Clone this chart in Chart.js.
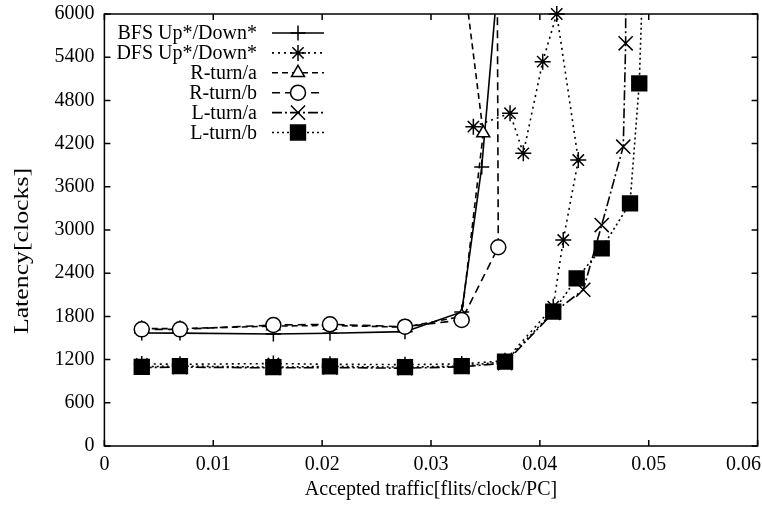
<!DOCTYPE html>
<html>
<head>
<meta charset="utf-8">
<script src="https://cdn.jsdelivr.net/npm/chart.js@4/dist/chart.umd.min.js"></script>
<style>
  body { margin: 0; background: #fff; }
</style>
</head>
<body>
<canvas id="myChart" width="762" height="513"></canvas>
<script>
// values
const xTickLabels = ['0', '0.01', '0.02', '0.03', '0.04', '0.05', '0.06'];
const yTickLabels = ['0', '600', '1200', '1800', '2400', '3000', '3600', '4200', '4800', '5400', '6000'];

const names = ['BFS Up*/Down*', 'DFS Up*/Down*', 'R-turn/a', 'R-turn/b', 'L-turn/a', 'L-turn/b'];

const bfsX = [0.00343, 0.00694, 0.01552, 0.02072, 0.02761, 0.03282, 0.03466, 0.0375];
const bfsY = [1570, 1568, 1555, 1565, 1588, 1862, 3875, 8830];

const dfsX = [0.00343, 0.00694, 0.01552, 0.02072, 0.02761, 0.03282, 0.0368, 0.04123, 0.04215, 0.04353, 0.04155, 0.04026, 0.03848, 0.03726, 0.03389];
const dfsY = [1140, 1135, 1145, 1135, 1130, 1140, 1185, 1935, 2861, 3972, 6000, 5338, 4065, 4621, 4435];

const rturnAX = [0.00343, 0.00694, 0.01552, 0.02072, 0.02761, 0.03282, 0.0348, 0.032];
const rturnAY = [1630, 1630, 1665, 1675, 1650, 1800, 4347, 7730];

const rturnBX = [0.00343, 0.00694, 0.01552, 0.02072, 0.02761, 0.03282, 0.03618, 0.0360];
const rturnBY = [1620, 1620, 1680, 1690, 1657, 1750, 2760, 10000];

const lturnAX = [0.00343, 0.00694, 0.01552, 0.02072, 0.02761, 0.03282, 0.0368, 0.04123, 0.04399, 0.04568, 0.04766, 0.04788, 0.0479];
const lturnAY = [1090, 1095, 1085, 1090, 1080, 1100, 1150, 1850, 2170, 3069, 4157, 5593, 9000];

const lturnBX = [0.00343, 0.00694, 0.01552, 0.02072, 0.02761, 0.03282, 0.0368, 0.04123, 0.04338, 0.04568, 0.04828, 0.04913, 0.0500];
const lturnBY = [1100, 1110, 1095, 1105, 1095, 1110, 1171, 1866, 2329, 2745, 3370, 5037, 9000];

const FONT = "'Liberation Serif', 'Times New Roman', serif";

// where the plot box sits in the reference
const box = {left: 104.4, top: 14, right: 757.6, bottom: 446};

function pts(xs, ys) {
  return xs.map((x, i) => ({x: x, y: ys[i]}));
}

function series(label, xs, ys, dash, style, radius, fill, order) {
  return {
    label: label,
    data: pts(xs, ys),
    borderColor: '#000',
    borderWidth: 1.6,
    borderDash: dash,
    tension: 0,
    fill: false,
    pointStyle: style,
    pointRadius: radius,
    pointBorderColor: '#000',
    pointBackgroundColor: fill,
    pointBorderWidth: 1.5,
    order: order
  };
}

const datasets = [
  series(names[0], bfsX, bfsY, [], 'cross', 7.5, '#000', 6),
  series(names[1], dfsX, dfsY, [2, 4], 'star', 8, '#000', 5),
  series(names[2], rturnAX, rturnAY, [6, 4], 'triangle', 7.5, '#fff', 4),
  series(names[3], rturnBX, rturnBY, [8, 5], 'circle', 7.5, '#fff', 3),
  series(names[4], lturnAX, lturnAY, [10, 3, 2, 3], 'crossRot', 10, '#000', 2),
  series(names[5], lturnBX, lturnBY, [2, 3], 'rect', 10.5, '#000', 1)
];
// the top asterisk sits on the border
datasets[1].clip = {left: 0, top: 10, right: 0, bottom: 0};

// gnuplot style: box with inward ticks on all sides
const frame = {
  id: 'frame',
  afterDatasetsDraw(chart) {
    const {ctx, chartArea: a, scales} = chart;
    ctx.save();
    ctx.strokeStyle = '#000';
    ctx.lineWidth = 1.5;
    ctx.setLineDash([]);
    ctx.strokeRect(a.left, a.top, a.right - a.left, a.bottom - a.top);
    ctx.beginPath();
    scales.x.ticks.forEach(t => {
      const px = scales.x.getPixelForValue(t.value);
      ctx.moveTo(px, a.bottom); ctx.lineTo(px, a.bottom - 6);
      ctx.moveTo(px, a.top); ctx.lineTo(px, a.top + 6);
    });
    scales.y.ticks.forEach(t => {
      const py = scales.y.getPixelForValue(t.value);
      ctx.moveTo(a.left, py); ctx.lineTo(a.left + 6, py);
      ctx.moveTo(a.right, py); ctx.lineTo(a.right - 6, py);
    });
    ctx.stroke();

    ctx.fillStyle = '#000';
    ctx.font = '20px ' + FONT;
    ctx.textBaseline = 'middle';
    // last x label is kept out of the layout so the box can reach the edge
    const last = scales.x.ticks.length - 1;
    ctx.textAlign = 'right';
    ctx.fillText(xTickLabels[last], chart.width - 1, a.bottom + 19);

    // y title, stretched like the scan
    ctx.textAlign = 'center';
    ctx.translate(23, 251);
    ctx.rotate(-Math.PI / 2);
    ctx.scale(1.29, 1);
    ctx.fillText('Latency[clocks]', 0, 0);
    ctx.restore();
  }
};

const keyBox = {
  id: 'keyBox',
  afterDraw(chart) {
    const ctx = chart.ctx;
    ctx.save();
    chart.data.datasets.forEach((ds, i) => {
      const y = 33 + 19.9 * i;
      ctx.fillStyle = '#000';
      ctx.font = '20px ' + FONT;
      ctx.textAlign = 'right';
      ctx.textBaseline = 'middle';
      ctx.fillText(ds.label, 257, y + 1);
      ctx.strokeStyle = '#000';
      ctx.lineWidth = ds.borderWidth;
      ctx.setLineDash(ds.borderDash);
      ctx.beginPath();
      ctx.moveTo(272, y);
      ctx.lineTo(324, y);
      ctx.stroke();
      ctx.setLineDash([]);
      ctx.fillStyle = ds.pointBackgroundColor;
      ctx.lineWidth = ds.pointBorderWidth;
      Chart.helpers.drawPoint(ctx, {
        pointStyle: ds.pointStyle,
        radius: ds.pointRadius,
        rotation: 0,
        borderWidth: ds.pointBorderWidth
      }, 298, y);
    });
    ctx.restore();
  }
};

const pad = {left: 0, top: 14, right: 4.4, bottom: 0};

const config = {
  type: 'scatter',
  data: {datasets: datasets},
  options: {
    responsive: false,
    animation: false,
    devicePixelRatio: 1,
    showLine: true,
    layout: {
      autoPadding: false,
      padding: Object.assign({}, pad)
    },
    plugins: {
      legend: {display: false},
      tooltip: {enabled: false}
    },
    scales: {
      x: {
        type: 'linear',
        min: 0,
        max: 0.06,
        border: {display: false},
        grid: {display: false, drawTicks: false},
        ticks: {
          stepSize: 0.01,
          padding: 7,
          color: '#000',
          font: {family: FONT, size: 20},
          maxRotation: 0,
          callback: (v, i, all) => i === all.length - 1 ? '' : xTickLabels[i]
        },
        title: {
          display: true,
          text: 'Accepted traffic[flits/clock/PC]',
          color: '#000',
          font: {family: FONT, size: 20},
          padding: {top: 0, bottom: 11}
        },
        afterFit: s => {
          s.height = 67;
          s.paddingLeft = 0;
          s.paddingRight = 0;
        }
      },
      y: {
        type: 'linear',
        min: 0,
        max: 6000,
        border: {display: false},
        grid: {display: false, drawTicks: false},
        ticks: {
          stepSize: 600,
          padding: 10,
          color: '#000',
          font: {family: FONT, size: 20},
          callback: (v, i) => yTickLabels[i]
        },
        afterFit: s => {
          s.width = 104.4;
          s.paddingTop = 0;
          s.paddingBottom = 0;
        }
      }
    }
  },
  plugins: [frame, keyBox]
};

const myChart = new Chart(document.getElementById('myChart'), config);

// nudge the layout padding until the plot box lands where it is in the picture
for (let k = 0; k < 3; k++) {
  const a = myChart.chartArea;
  pad.left += box.left - a.left;
  pad.top += box.top - a.top;
  pad.right += a.right - box.right;
  pad.bottom += a.bottom - box.bottom;
  myChart.options.layout.padding = Object.assign({}, pad);
  myChart.update();
}
</script>
</body>
</html>
